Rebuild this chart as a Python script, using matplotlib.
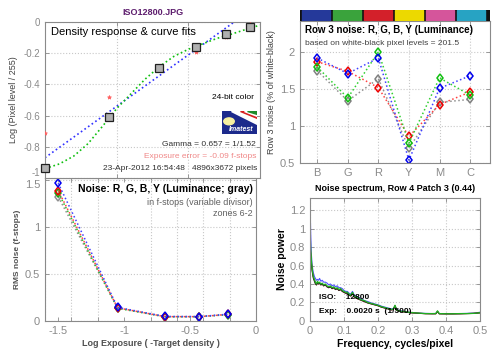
import matplotlib
matplotlib.use('Agg')
import matplotlib.pyplot as plt
from matplotlib.patches import Rectangle, Circle, Polygon
from matplotlib.ticker import MultipleLocator

plt.rcParams['font.family'] = ['Liberation Sans', 'DejaVu Sans']
plt.rcParams['axes.unicode_minus'] = False

# density response & curve fits
step_x = [-1.5, -1.056, -0.708, -0.45, -0.236, -0.07]
step_y = [-0.934, -0.611, -0.293, -0.162, -0.077, -0.034]
raw_y = [-0.71, -0.48, -0.31, -0.19, -0.095, -0.013]
fit_x = [-1.5, -1.4, -1.3, -1.2, -1.1, -1.0, -0.9, -0.8, -0.7, -0.6, -0.5,
         -0.4, -0.3, -0.2, -0.1, 0.0]
fit_y = [-0.94, -0.91, -0.86, -0.78, -0.67, -0.555, -0.46, -0.365, -0.285,
         -0.22, -0.175, -0.14, -0.105, -0.078, -0.048, -0.02]
lin_x = [-1.5, -0.18]
lin_y = [-0.87, 0.0]

# row 3 noise
patch_names = ['B', 'G', 'R', 'Y', 'M', 'C']
row3_red = [1.87, 1.74, 1.52, 0.86, 1.29, 1.46]
row3_green = [1.80, 1.38, 2.00, 0.77, 1.65, 1.42]
row3_blue = [1.92, 1.71, 1.92, 0.54, 1.51, 1.68]
row3_gray = [1.75, 1.34, 1.64, 0.70, 1.32, 1.36]
strip_colors = ['#25399a', '#3aa33c', '#d3202a', '#ecd900', '#d5559b', '#27a3c3']

# rms noise in f-stops
zone_x = [-1.5, -1.05, -0.69, -0.43, -0.21]
noise_red = [1.387, 0.14, 0.046, 0.046, 0.07]
noise_green = [1.365, 0.135, 0.045, 0.046, 0.068]
noise_blue = [1.465, 0.145, 0.048, 0.047, 0.072]
noise_gray = [1.32, 0.14, 0.045, 0.045, 0.068]

# noise spectrum
freq = [0, 0.002, 0.004, 0.006, 0.008, 0.010, 0.013, 0.016, 0.019, 0.022,
        0.025, 0.028, 0.032, 0.036, 0.040, 0.045, 0.050, 0.055, 0.060, 0.065,
        0.070, 0.075, 0.080, 0.085, 0.090, 0.095, 0.100, 0.105, 0.110, 0.115,
        0.120, 0.125, 0.130, 0.135, 0.140, 0.150, 0.160, 0.170, 0.180, 0.190,
        0.200, 0.210, 0.220, 0.230, 0.240, 0.245, 0.250, 0.255, 0.260, 0.270,
        0.280, 0.290, 0.300, 0.320, 0.340, 0.360, 0.370, 0.375, 0.380, 0.400,
        0.420, 0.440, 0.460, 0.480, 0.490, 0.500]
spec_blue = [1.33, 0.95, 0.72, 0.62, 0.56, 0.52, 0.48, 0.46, 0.44, 0.45, 0.44,
             0.46, 0.43, 0.44, 0.42, 0.42, 0.41, 0.39, 0.40, 0.38, 0.39, 0.37,
             0.38, 0.36, 0.36, 0.35, 0.33, 0.32, 0.32, 0.30, 0.29, 0.32, 0.28,
             0.27, 0.26, 0.24, 0.22, 0.21, 0.195, 0.185, 0.175, 0.16, 0.15,
             0.14, 0.13, 0.135, 0.16, 0.125, 0.115, 0.108, 0.10, 0.095, 0.09,
             0.085, 0.082, 0.08, 0.082, 0.10, 0.08, 0.08, 0.08, 0.08, 0.082,
             0.085, 0.088, 0.095]
spec_red = [0.85, 0.74, 0.64, 0.57, 0.51, 0.47, 0.44, 0.41, 0.39, 0.42, 0.40,
            0.41, 0.39, 0.40, 0.38, 0.39, 0.37, 0.36, 0.37, 0.35, 0.36, 0.34,
            0.35, 0.33, 0.34, 0.32, 0.31, 0.30, 0.30, 0.28, 0.27, 0.30, 0.26,
            0.25, 0.24, 0.225, 0.21, 0.195, 0.185, 0.175, 0.165, 0.15, 0.14,
            0.13, 0.12, 0.125, 0.16, 0.115, 0.108, 0.10, 0.097, 0.092, 0.088,
            0.083, 0.079, 0.078, 0.078, 0.10, 0.078, 0.077, 0.077, 0.078, 0.08,
            0.082, 0.085, 0.088]
spec_black = [0.80, 0.72, 0.62, 0.55, 0.50, 0.46, 0.43, 0.40, 0.39, 0.41, 0.40,
              0.41, 0.39, 0.40, 0.38, 0.39, 0.37, 0.36, 0.37, 0.35, 0.36, 0.34,
              0.35, 0.33, 0.34, 0.32, 0.31, 0.30, 0.30, 0.28, 0.27, 0.30, 0.26,
              0.25, 0.24, 0.225, 0.21, 0.195, 0.185, 0.175, 0.165, 0.15, 0.14,
              0.13, 0.12, 0.125, 0.165, 0.115, 0.108, 0.10, 0.097, 0.092, 0.088,
              0.083, 0.079, 0.078, 0.078, 0.105, 0.078, 0.077, 0.077, 0.078,
              0.08, 0.082, 0.085, 0.088]
spec_green = [1.00, 0.78, 0.66, 0.58, 0.52, 0.48, 0.45, 0.42, 0.40, 0.43, 0.41,
              0.42, 0.40, 0.41, 0.39, 0.40, 0.38, 0.37, 0.38, 0.36, 0.37, 0.35,
              0.36, 0.34, 0.35, 0.33, 0.32, 0.31, 0.31, 0.29, 0.28, 0.31, 0.27,
              0.26, 0.25, 0.23, 0.22, 0.20, 0.19, 0.18, 0.17, 0.155, 0.145,
              0.135, 0.125, 0.13, 0.17, 0.12, 0.11, 0.105, 0.10, 0.095, 0.09,
              0.085, 0.08, 0.08, 0.08, 0.11, 0.08, 0.078, 0.078, 0.08, 0.08,
              0.082, 0.085, 0.09]

GRAY = '#8a8a8a'
GRID = dict(color='#c8c8c8', linestyle=':', linewidth=0.8)


def style_axes(ax, size=7):
    for s in ax.spines.values():
        s.set_color(GRAY)
        s.set_linewidth(0.8)
    ax.tick_params(direction='in', top=True, right=True, colors=GRAY,
                   labelcolor=GRAY, labelsize=size, length=3, width=0.6,
                   which='both')


fig = plt.figure(figsize=(5.0, 3.53), dpi=100)

# ---- bottom left: rms noise (drawn first, top-left overlaps it)
ax3 = fig.add_axes([0.09, 0.0907, 0.422, 0.405])
style_axes(ax3, 8)
for vals, c, mec in [(noise_gray, '#909090', '#909090'), (noise_green, '#30c030', '#10b010'),
                     (noise_red, '#ff4040', '#ee0000'), (noise_blue, '#4040ff', '#0000ee')]:
    ax3.plot(zone_x, vals, ':', color=c, lw=1.1, marker='d', ms=4.5,
             mfc='none', mec=mec, mew=1.1)
ax3.set_xlim(-1.6, 0)
ax3.set_ylim(0, 1.52)
ax3.set_xticks([-1.5, -1, -0.5, 0])
ax3.set_xticklabels(['-1.5', '-1', '-0.5', '0'])
ax3.set_yticks([0, 0.5, 1, 1.5])
ax3.set_yticklabels(['0', '0.5', '1', '1.5'])
ax3.get_yticklabels()[-1].set_va('top')
ax3.xaxis.set_minor_locator(MultipleLocator(0.2))
ax3.grid(True, axis='y', **GRID)
ax3.grid(True, axis='x', which='minor', **GRID)
ax3.set_xlabel('Log Exposure ( -Target density )', fontsize=6.5,
               fontweight='bold', color='#505050', labelpad=2)
ax3.set_ylabel('RMS noise (f-stops)', fontsize=6, fontweight='bold',
               color='#505050', labelpad=3)
ax3.text(0.985, 0.92, 'Noise: R, G, B, Y (Luminance; gray)', transform=ax3.transAxes,
         ha='right', va='center', fontsize=7.5, fontweight='bold')
ax3.text(0.985, 0.83, 'in f-stops (variable divisor)', transform=ax3.transAxes,
         ha='right', va='center', fontsize=6.5, color='#606060')
ax3.text(0.985, 0.755, 'zones 6-2', transform=ax3.transAxes,
         ha='right', va='center', fontsize=6.5, color='#606060')

# ---- top left: density response
ax1 = fig.add_axes([0.09, 0.4958, 0.43, 0.4419], zorder=3)
style_axes(ax1)
ax1.plot(lin_x, lin_y, ':', color='#3030ff', lw=1.2)
ax1.plot(fit_x, fit_y, ':', color='#10c010', lw=1.2)
ax1.plot(step_x, raw_y, '*', color='#ff6060', ms=3, mew=0.5, zorder=4)
ax1.plot(step_x, step_y, 's', color='#b0b0b0', mec='#202020', ms=5.5,
         mew=0.9, zorder=5, clip_on=False)
ax1.set_xlim(-1.5, 0)
ax1.set_ylim(-1, 0)
ax1.set_xticks([-1, -0.5])
ax1.set_xticklabels([])
ax1.set_yticks([0, -0.2, -0.4, -0.6, -0.8, -1])
ax1.set_yticklabels(['0', '-0.2', '-0.4', '-0.6', '-0.8', '-1'])
ax1.get_yticklabels()[-1].set_va('bottom')
ax1.grid(True, **GRID)
ax1.set_ylabel('Log (Pixel level / 255)', fontsize=6.5, color='#404040', labelpad=4)
ax1.set_title('ISO12800.JPG', fontsize=6.5, fontweight='bold', color='#5e1e6e', pad=5)
ax1.text(0.03, 0.935, 'Density response & curve fits', transform=ax1.transAxes,
         ha='left', va='center', fontsize=8)
ax1.text(0.97, 0.515, '24-bit color', transform=ax1.transAxes,
         ha='right', va='center', fontsize=6)
ax1.text(0.98, 0.215, 'Gamma = 0.657 = 1/1.52', transform=ax1.transAxes,
         ha='right', va='center', fontsize=6, color='#303030')
ax1.text(0.985, 0.135, 'Exposure error = -0.09 f-stops', transform=ax1.transAxes,
         ha='right', va='center', fontsize=6, color='#f08888')
ax1.text(0.985, 0.06, '23-Apr-2012 16:54:48   4896x3672 pixels', transform=ax1.transAxes,
         ha='right', va='center', fontsize=6, color='#303030')

# imatest logo
lg = fig.add_axes([0.444, 0.6204, 0.07, 0.0652], zorder=6)
lg.set_xlim(0, 1)
lg.set_ylim(0, 1)
lg.axis('off')
lg.add_patch(Rectangle((0, 0), 1, 1, color='#1c2a8c'))
lg.add_patch(Polygon([[0.25, 1], [1, 1], [1, 0.45]], closed=True, color='white'))
lg.add_patch(Polygon([[0.5, 1], [1, 1], [1, 0.7]], closed=True, color='#d82020'))
lg.add_patch(Polygon([[0.62, 1], [1, 1], [1, 0.8]], closed=True, color='white'))
lg.add_patch(Polygon([[0.7, 1], [1, 1], [1, 0.86]], closed=True, color='#1f8a2a'))
lg.add_patch(Circle((0.2, 0.55), 0.15, color='#f6f0a0', transform=lg.transData))
lg.text(0.55, 0.18, 'Imatest', color='white', fontsize=5, fontweight='bold',
        style='italic', ha='center', va='center')

# ---- top right: row 3 noise
ax2 = fig.add_axes([0.6, 0.5382, 0.38, 0.4023])
style_axes(ax2, 8)
px = list(range(1, len(patch_names) + 1))
for vals, c, mec in [(row3_gray, '#909090', '#808080'), (row3_red, '#ff4040', '#ee0000'),
                     (row3_green, '#30d030', '#10c010'), (row3_blue, '#4040ff', '#0000ee')]:
    ax2.plot(px, vals, ':', color=c, lw=1.1, marker='d', ms=4.5,
             mfc='none', mec=mec, mew=1.1)
ax2.set_xlim(0.44, 6.65)
ax2.set_ylim(0.5, 2.42)
ax2.set_xticks(px)
ax2.set_xticklabels(patch_names)
ax2.set_yticks([0.5, 1, 1.5, 2])
ax2.set_yticklabels(['0.5', '1', '1.5', '2'])
ax2.grid(True, **GRID)
ax2.set_ylabel('Row 3 noise (% of white-black)', fontsize=6.5, color='#404040', labelpad=3)
ax2.text(0.025, 0.935, 'Row 3 noise: R, G, B, Y (Luminance)', transform=ax2.transAxes,
         ha='left', va='center', fontsize=7, fontweight='bold')
ax2.text(0.025, 0.845, 'based on white-black pixel levels = 201.5', transform=ax2.transAxes,
         ha='left', va='center', fontsize=6, color='#404040')

strip = fig.add_axes([0.6, 0.9405, 0.38, 0.0312])
strip.set_xlim(0, 1)
strip.set_ylim(0, 1)
strip.axis('off')
strip.add_patch(Rectangle((0, 0), 1, 1, color='#101010'))
seg = 1.0 / len(strip_colors) * 0.975
for i, c in enumerate(strip_colors):
    strip.add_patch(Rectangle((0.005 + i * seg + 0.008, 0), seg - 0.016, 1, color=c))

# ---- bottom right: noise spectrum
ax4 = fig.add_axes([0.62, 0.0907, 0.34, 0.3484])
style_axes(ax4, 8)
ax4.plot(freq, spec_blue, color='#5050ff', lw=0.8)
ax4.plot(freq, spec_red, color='#e03030', lw=0.8)
ax4.plot(freq, spec_black, color='#202020', lw=0.8)
ax4.plot(freq, spec_green, color='#20b020', lw=0.9)
ax4.set_xlim(0, 0.5)
ax4.set_ylim(0, 1.33)
ax4.set_xticks([0, 0.1, 0.2, 0.3, 0.4, 0.5])
ax4.set_xticklabels(['0', '0.1', '0.2', '0.3', '0.4', '0.5'])
ax4.set_yticks([0, 0.2, 0.4, 0.6, 0.8, 1, 1.2])
ax4.set_yticklabels(['0', '0.2', '0.4', '0.6', '0.8', '1', '1.2'])
ax4.grid(True, **GRID)
ax4.set_title('Noise spectrum, Row 4 Patch 3 (0.44)', fontsize=6.5,
              fontweight='bold', pad=5)
ax4.set_xlabel('Frequency, cycles/pixel', fontsize=7.5, fontweight='bold', labelpad=2)
ax4.set_ylabel('Noise power', fontsize=7.5, fontweight='bold', labelpad=2)
ax4.text(0.055, 0.19, 'ISO:    12800', transform=ax4.transAxes,
         ha='left', va='center', fontsize=6, fontweight='bold')
ax4.text(0.055, 0.075, 'Exp:    0.0020 s  (1/500)', transform=ax4.transAxes,
         ha='left', va='center', fontsize=6, fontweight='bold')

fig.savefig('out.png', dpi=100)
